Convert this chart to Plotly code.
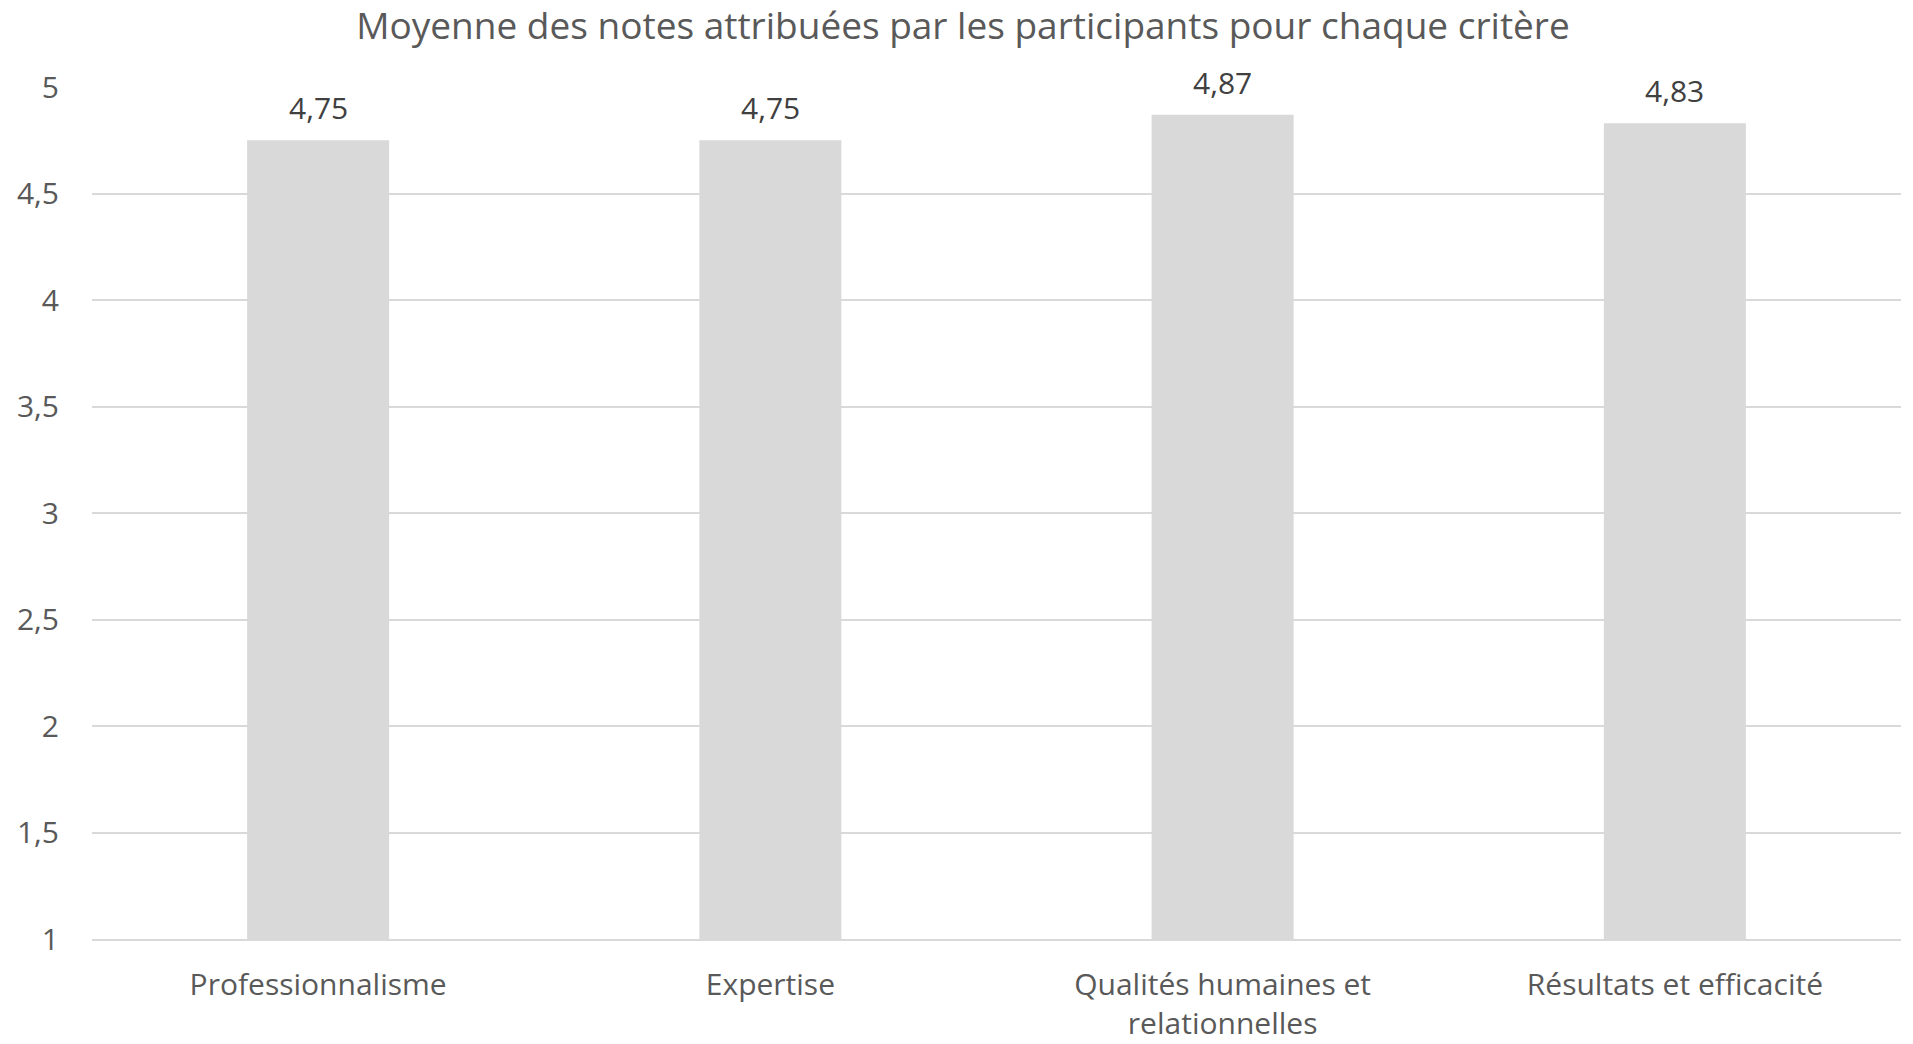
import plotly.graph_objects as go

criteres = ["Professionnalisme", "Expertise", "Qualités humaines et<br>relationnelles", "Résultats et efficacité"]
moyennes = [4.75, 4.75, 4.87, 4.83]
y_ticks = [1, 1.5, 2, 2.5, 3, 3.5, 4, 4.5, 5]

font_family = "Open Sans, sans-serif"
gris_texte = "#595959"
gris_grille = "#d9d9d9"

fig = go.Figure(go.Bar(
    x=criteres,
    y=moyennes,
    marker=dict(color="#d9d9d9", line=dict(width=0)),
    hoverinfo="skip",
))

# value labels above bars
for c, v in zip(criteres, moyennes):
    fig.add_annotation(
        x=c, y=v, text=f"{v:.2f}".replace(".", ","),
        showarrow=False, yanchor="bottom", yshift=10,
        font=dict(family=font_family, size=30, color="#404040"),
    )

fig.update_layout(
    width=1913,
    height=1044,
    margin=dict(l=92, r=12, t=87, b=105),
    paper_bgcolor="white",
    plot_bgcolor="white",
    separators=", ",
    bargap=0.686,
    showlegend=False,
    title=dict(
        text="Moyenne des notes attribuées par les participants pour chaque critère",
        x=963 / 1913, xanchor="center", xref="container",
        y=1 - 26 / 1044, yanchor="middle", yref="container",
        font=dict(family=font_family, size=37, color=gris_texte),
    ),
    font=dict(family=font_family, size=30, color=gris_texte),
)

fig.update_yaxes(
    range=[1, 5],
    tickvals=y_ticks,
    ticktext=[str(t).replace(".", ",") for t in y_ticks],
    showgrid=True,
    gridcolor=gris_grille,
    gridwidth=2,
    zeroline=False,
    showline=False,
    ticks="",
    automargin=False,
    ticklabelstandoff=32,
    tickfont=dict(family=font_family, size=30, color=gris_texte),
)
fig.update_xaxes(
    showline=True,
    linecolor=gris_grille,
    linewidth=2,
    ticks="",
    automargin=False,
    ticklabelstandoff=18,
    tickfont=dict(family=font_family, size=30, color=gris_texte),
)

# drop the default 8px body margin so the figure fills the window
fig.write_html("out.html", config={"displayModeBar": False},
               post_script="document.body.style.margin = '0';")
